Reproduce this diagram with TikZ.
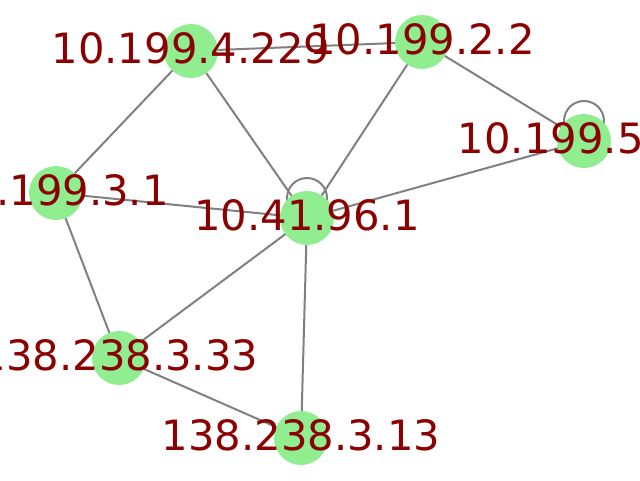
\documentclass[tikz,border=0pt]{standalone}
\usepackage{fontspec}
\setmainfont{DejaVu Sans}
\usetikzlibrary{backgrounds}
\definecolor{nodegreen}{HTML}{90EE90}
\definecolor{labelred}{HTML}{8B0000}
\begin{document}
\begin{tikzpicture}[x=0.75pt,y=-0.75pt,
  vertex/.style={circle,fill=nodegreen,minimum size=40.5pt,inner sep=0pt},
  iplabel/.style={text=labelred,font=\fontsize{31.3}{34}\selectfont,anchor=base,inner sep=0pt},
  link/.style={draw=gray,line width=1.5pt}]
\useasboundingbox (0,0) rectangle (640,480);
\node[vertex] (a) at (191,51) {};
\node[vertex] (b) at (422,42) {};
\node[vertex] (c) at (584,141) {};
\node[vertex] (d) at (56,193) {};
\node[vertex] (e) at (307,218) {};
\node[vertex] (f) at (119,358) {};
\node[vertex] (g) at (301,438) {};
\begin{scope}[on background layer]
\draw[link] (a.center) -- (b.center);
\draw[link] (a.center) -- (d.center);
\draw[link] (a.center) -- (e.center);
\draw[link] (b.center) -- (e.center);
\draw[link] (b.center) -- (c.center);
\draw[link] (c.center) -- (e.center);
\draw[link] (d.center) -- (e.center);
\draw[link] (d.center) -- (f.center);
\draw[link] (e.center) -- (f.center);
\draw[link] (e.center) -- (g.center);
\draw[link] (f.center) -- (g.center);
\draw[link] (e.center) ++(0,-20) circle[radius=15pt];
\draw[link] (c.center) ++(0,-20) circle[radius=15pt];
\end{scope}
\node[iplabel] (la) at (191,63) {10.199.4.229};
\node[iplabel] (lb) at (422,54) {10.199.2.2};
\node[iplabel] (lc) at (584,153) {10.199.5.10};
\node[iplabel] (ld) at (56,205) {10.199.3.1};
\node[iplabel] (le) at (307,230) {10.41.96.1};
\node[iplabel] (lf) at (119,370) {138.238.3.33};
\node[iplabel] (lg) at (301,450) {138.238.3.13};
\end{tikzpicture}
\end{document}
